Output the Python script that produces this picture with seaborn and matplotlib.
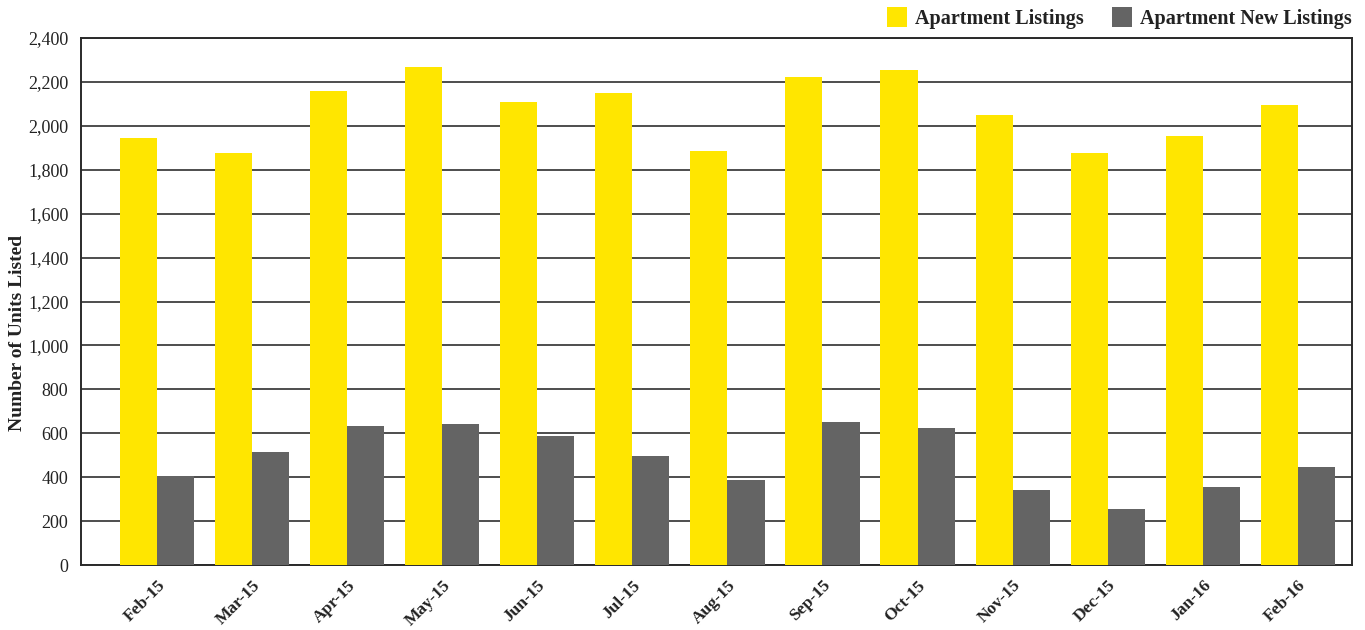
import matplotlib
matplotlib.use("Agg")
import matplotlib.pyplot as plt
import seaborn as sns
import pandas as pd
from matplotlib.ticker import FuncFormatter
from matplotlib.patches import Patch

months = ["Feb-15", "Mar-15", "Apr-15", "May-15", "Jun-15", "Jul-15", "Aug-15",
          "Sep-15", "Oct-15", "Nov-15", "Dec-15", "Jan-16", "Feb-16"]
listings = [1945, 1877, 2160, 2270, 2108, 2150, 1884, 2222, 2254, 2050, 1877, 1955, 2093]
new_listings = [405, 514, 631, 640, 586, 495, 386, 649, 622, 343, 257, 357, 448]
series_names = ["Apartment Listings", "Apartment New Listings"]
colors = ["#FFE600", "#646464"]
yticks = list(range(0, 2401, 200))

df = pd.DataFrame({
    "Month": months * 2,
    "Units": listings + new_listings,
    "Series": [series_names[0]] * len(months) + [series_names[1]] * len(months),
})

sns.set_theme(style="white")
plt.rcParams["font.family"] = ["Liberation Serif", "DejaVu Serif"]

fig = plt.figure(figsize=(13.65, 6.3), dpi=100)
ax = fig.add_axes([81 / 1365, 1 - 565 / 630, (1352 - 81) / 1365, (565 - 38) / 630])

sns.barplot(data=df, x="Month", y="Units", hue="Series", order=months,
            hue_order=series_names, palette=colors, width=0.78,
            saturation=1, linewidth=0, ax=ax, legend=False, zorder=3)

ax.set_ylim(0, 2400)
ax.set_yticks(yticks)
ax.yaxis.set_major_formatter(FuncFormatter(lambda v, p: f"{int(v):,}"))
ax.grid(axis="y", color="#3f3f3f", linewidth=1.3, zorder=0)
ax.grid(axis="x", visible=False)
for s in ax.spines.values():
    s.set_color("#2a2a2a")
    s.set_linewidth(1.4)
ax.tick_params(axis="both", length=0)
ax.tick_params(axis="y", labelsize=13, pad=9, colors="#222222")
ax.tick_params(axis="x", pad=9)
for lbl in ax.get_xticklabels():
    lbl.set_rotation(45)
    lbl.set_ha("right")
    lbl.set_rotation_mode("anchor")
    lbl.set_fontweight("bold")
    lbl.set_fontsize(12.5)
    lbl.set_color("#222222")
ax.set_xlabel("")
ax.set_ylabel("Number of Units Listed", fontsize=14, fontweight="bold",
              color="#222222")
ax.yaxis.set_label_coords(-0.043, 0.44)
ax.set_xlim(-0.8, len(months) - 0.43)

handles = [Patch(facecolor=c, edgecolor="none") for c in colors]
fig.legend(handles, series_names, loc="upper right", bbox_to_anchor=(1363 / 1365, 1.006),
           ncol=2, frameon=False, handlelength=1.0, handleheight=1.1,
           handletextpad=0.4, columnspacing=1.4,
           prop={"weight": "bold", "size": 14.5}, labelcolor="#222222",
           borderaxespad=0.15)

fig.savefig("out.png", dpi=100)
